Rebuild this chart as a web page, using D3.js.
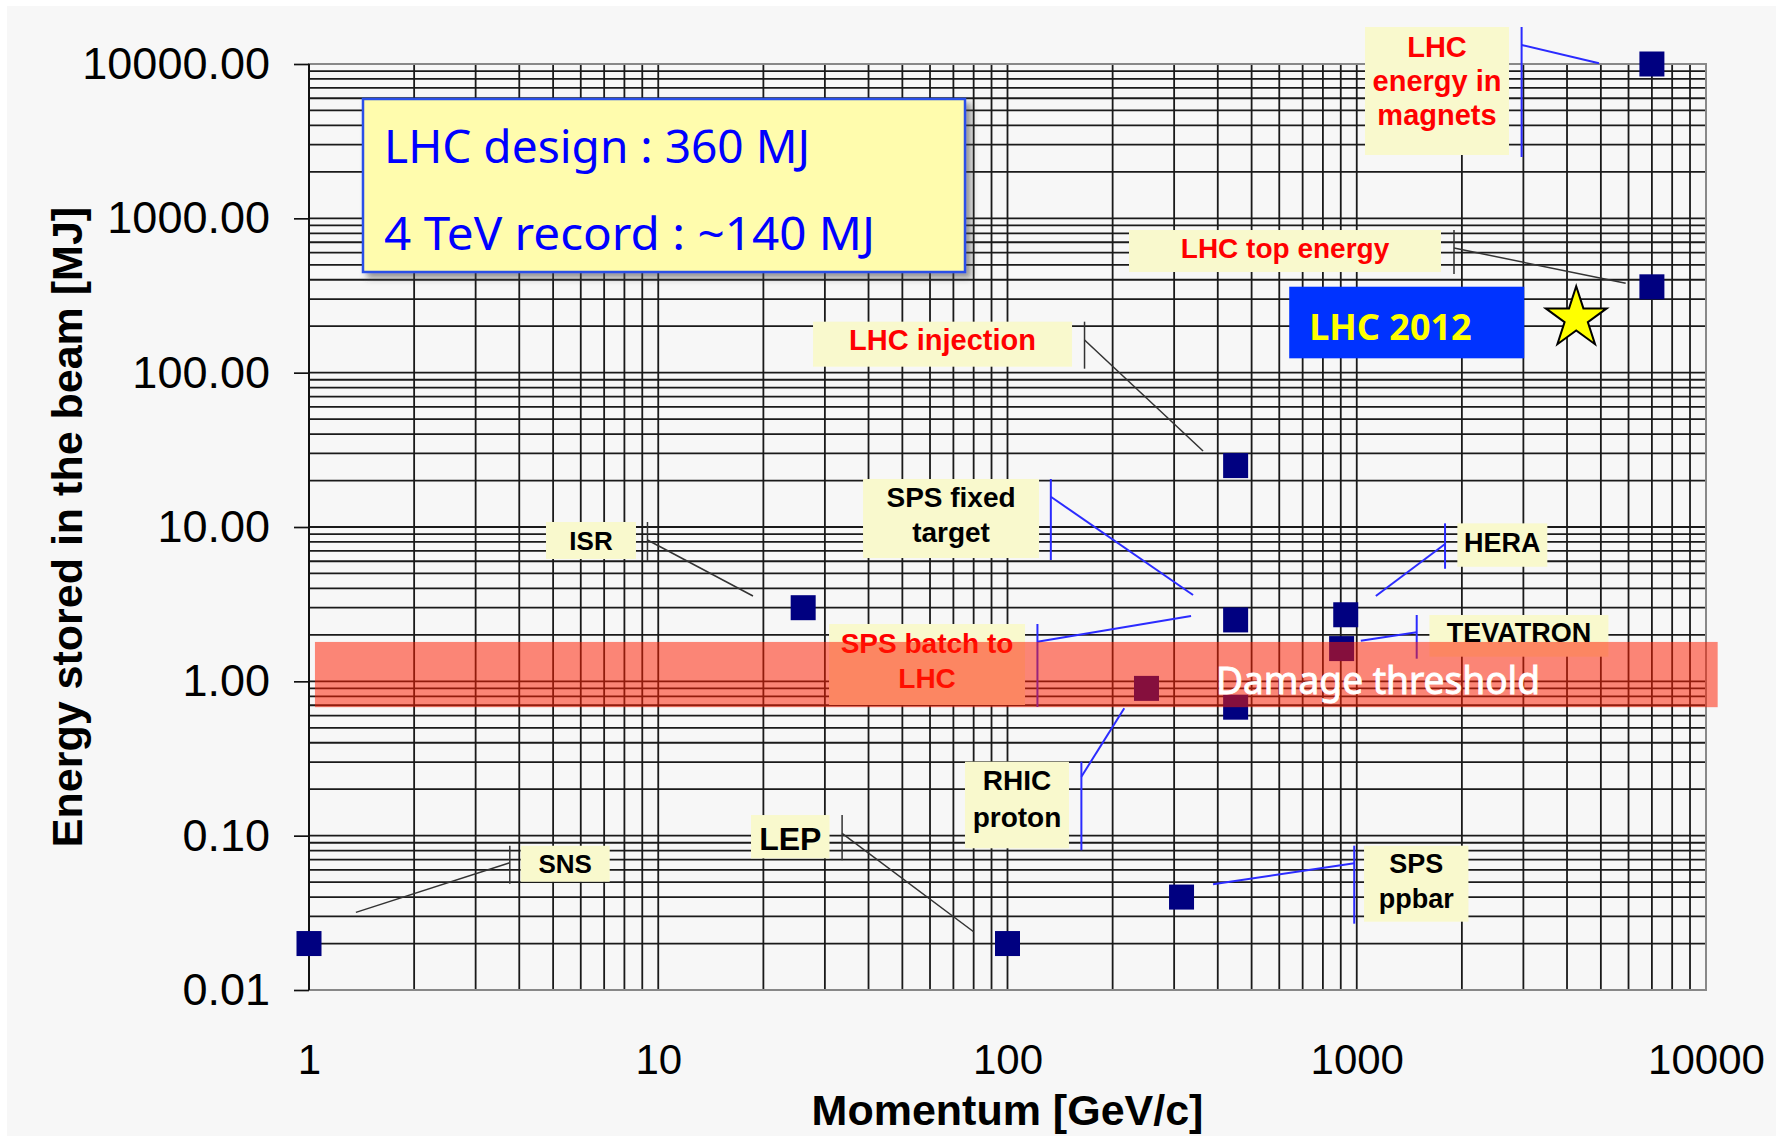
<!DOCTYPE html>
<html>
<head>
<meta charset="utf-8">
<script src="https://cdn.jsdelivr.net/npm/d3@7"></script>
<style>
  body { margin: 0; background: #fff; }
  svg { display: block; }
</style>
</head>
<body>
<script>
// stored beam energy of accelerators vs beam momentum
const machines = ["SNS", "ISR", "LEP", "SPS ppbar", "LHC injection", "SPS fixed target",
  "SPS batch to LHC", "RHIC proton", "HERA", "TEVATRON", "LHC top energy", "LHC energy in magnets"];
const momentum = [1, 26, 100, 315, 450, 450, 450, 250, 930, 905, 7000, 7000];   // GeV/c
const energy = [0.02, 3, 0.02, 0.04, 25, 2.5, 0.68, 0.9, 2.7, 1.63, 360, 10000]; // MJ
const labelLines = [["SNS"], ["ISR"], ["LEP"], ["SPS", "ppbar"], ["LHC injection"], ["SPS fixed", "target"],
  ["SPS batch to", "LHC"], ["RHIC", "proton"], ["HERA"], ["TEVATRON"], ["LHC top energy"], ["LHC", "energy in", "magnets"]];

// LHC 2012 run (star)
const run2012Momentum = [4250];
const run2012Energy = [225];

// damage threshold band
const damageEnergy = [0.68, 1.8];
const damageMomentum = [1.04, 10800];

const xTicks = [1, 10, 100, 1000, 10000];
const yTicks = [0.01, 0.1, 1, 10, 100, 1000, 10000];

const W = 1776, H = 1136;
const plot = {left: 309, right: 1706, top: 64, bottom: 990};

// callout layout, offsets from the point: box [dx, dy, w, h], first baseline, line step, font size,
// bracket dx, leader from / to, red text, blue leader
const callouts = [
  {box: [211.7, -97.8, 89, 36], base: 27.6, step: 0, size: 26, tick: 200.8, from: [200.8, -80.8], to: [46.9, -31.2], red: false, blue: false},
  {box: [-257.2, -85.7, 90, 37], base: 28, step: 0, size: 26, tick: -155.7, from: [-155.7, -67.7], to: [-50.2, -11.7], red: false, blue: false},
  {box: [-256.5, -128.5, 78.5, 43.3], base: 35, step: 0, size: 32, tick: -165.4, from: [-165.4, -110.2], to: [-33.9, -11.8], red: false, blue: false},
  {box: [182.5, -51.4, 104.4, 76], base: 27.6, step: 35, size: 27, tick: 172.7, from: [172.7, -33.8], to: [31.5, -12.8], red: false, blue: true},
  {box: [-422.6, -143.9, 259, 45], base: 28.3, step: 0, size: 29, tick: -151.1, from: [-151.1, -125.6], to: [-32.6, -14.6], red: true, blue: false},
  {box: [-372.6, -140.9, 176, 79], base: 28, step: 35, size: 28, tick: -184.8, from: [-184.8, -123.2], to: [-42.6, -24.9], red: false, blue: true},
  {box: [-406.6, -83.2, 196, 81], base: 29.3, step: 35, size: 28, tick: -198.2, from: [-198.2, -65.5], to: [-44.6, -91.2], red: true, blue: true},
  {box: [-181.5, 73.3, 104, 86.6], base: 28.3, step: 36.7, size: 28, tick: -65.1, from: [-65.1, 88.3], to: [-22.2, 19.9], red: false, blue: true},
  {box: [111.6, -91.4, 90, 43.4], base: 28.4, step: 0, size: 27, tick: 99.3, from: [99.3, -70.7], to: [30.1, -18.7], red: false, blue: true},
  {box: [87.8, -33.6, 179, 41.7], base: 27.3, step: 0, size: 27, tick: 75.1, from: [75.1, -16.3], to: [19.2, -7.9], red: false, blue: true},
  {box: [-522.9, -56.8, 312, 42], base: 28, step: 0, size: 28, tick: -197.9, from: [-197.9, -38.8], to: [-26.2, -3.5], red: true, blue: false},
  {box: [-286.9, -37, 144, 128], base: 29.7, step: 34, size: 29, tick: -130.3, from: [-130.3, -19], to: [-52.9, -0.7], red: true, blue: true}
];

const x = d3.scaleLog().domain([1, 10000]).range([plot.left, plot.right]);
const y = d3.scaleLog().domain([0.01, 10000]).range([plot.bottom, plot.top]);

const svg = d3.select("body").append("svg")
  .attr("width", W)
  .attr("height", H);

const defs = svg.append("defs");
const shadow = defs.append("filter").attr("id", "shadow")
  .attr("x", "-5%").attr("y", "-5%").attr("width", "115%").attr("height", "120%");
shadow.append("feDropShadow")
  .attr("dx", 5).attr("dy", 5).attr("stdDeviation", 3)
  .attr("flood-color", "#444").attr("flood-opacity", 0.55);

svg.append("rect")
  .attr("x", 7).attr("y", 6)
  .attr("width", W - 7).attr("height", H - 6)
  .attr("fill", "#f7f7f7");

// log grid
const xGrid = d3.range(0, 4).flatMap(k => d3.range(1, 10).map(m => m * Math.pow(10, k))).concat([10000]);
const yGrid = d3.range(-2, 4).flatMap(k => d3.range(1, 10).map(m => m * Math.pow(10, k))).concat([10000]);

const grid = svg.append("g").attr("stroke", "#1a1a1a").attr("stroke-width", 1.8);
grid.selectAll("line.v")
  .data(xGrid.slice(1, -1))
  .join("line")
  .attr("class", "v")
  .attr("x1", d => x(d)).attr("x2", d => x(d))
  .attr("y1", plot.top).attr("y2", plot.bottom);
grid.selectAll("line.h")
  .data(yGrid.slice(1, -1))
  .join("line")
  .attr("class", "h")
  .attr("x1", plot.left).attr("x2", plot.right)
  .attr("y1", d => y(d)).attr("y2", d => y(d));

// frame
svg.append("rect")
  .attr("x", plot.left).attr("y", plot.top)
  .attr("width", plot.right - plot.left).attr("height", plot.bottom - plot.top)
  .attr("fill", "none").attr("stroke", "#888").attr("stroke-width", 2);
svg.append("line")
  .attr("x1", plot.left).attr("x2", plot.left)
  .attr("y1", plot.top).attr("y2", plot.bottom)
  .attr("stroke", "#111").attr("stroke-width", 2);

// y axis
const yAxis = svg.append("g")
  .attr("transform", `translate(${plot.left},0)`)
  .call(d3.axisLeft(y).tickValues(yTicks).tickFormat(d3.format(".2f")).tickSize(15).tickPadding(24));
yAxis.select(".domain").remove();
yAxis.selectAll(".tick line").attr("stroke", "#111").attr("stroke-width", 1.7);
yAxis.selectAll(".tick text")
  .attr("fill", "#000")
  .style("font-family", "'Liberation Sans', Arial, sans-serif")
  .style("font-size", "45px");

// x axis (labels only)
const xAxis = svg.append("g")
  .attr("transform", `translate(0,${plot.bottom})`)
  .call(d3.axisBottom(x).tickValues(xTicks).tickFormat(d3.format("d")).tickSize(0).tickPadding(54));
xAxis.select(".domain").remove();
xAxis.selectAll(".tick text")
  .attr("fill", "#000")
  .style("font-family", "'Liberation Sans', Arial, sans-serif")
  .style("font-size", "42px");

svg.append("text")
  .attr("x", (plot.left + plot.right) / 2)
  .attr("y", 1125)
  .attr("text-anchor", "middle")
  .style("font-family", "'Liberation Sans', Arial, sans-serif")
  .style("font-weight", "bold")
  .style("font-size", "43px")
  .text("Momentum [GeV/c]");

svg.append("text")
  .attr("transform", `translate(82,${(plot.top + plot.bottom) / 2}) rotate(-90)`)
  .attr("text-anchor", "middle")
  .style("font-family", "'Liberation Sans', Arial, sans-serif")
  .style("font-weight", "bold")
  .style("font-size", "43px")
  .text("Energy stored in the beam [MJ]");

// LHC design text box
const design = svg.append("g");
design.append("rect")
  .attr("x", 363).attr("y", 99)
  .attr("width", 602).attr("height", 173)
  .attr("fill", "#fffcad")
  .attr("stroke", "#2a4fe8").attr("stroke-width", 2.5)
  .attr("filter", "url(#shadow)");
design.selectAll("text")
  .data([["LHC design : 360 MJ", 426], ["4 TeV record : ~140 MJ", 491]])
  .join("text")
  .attr("x", 384)
  .attr("y", (d, i) => 163 + i * 87)
  .attr("textLength", d => d[1])
  .attr("lengthAdjust", "spacingAndGlyphs")
  .attr("fill", "#0000ff")
  .style("font-family", "'Noto Sans', 'Open Sans', sans-serif")
  .style("font-size", "46px")
  .text(d => d[0]);

// callouts
const pts = machines.map((m, i) => ({name: m, px: x(momentum[i]), py: y(energy[i]), lines: labelLines[i], c: callouts[i]}));

const cg = svg.append("g").selectAll("g")
  .data(pts)
  .join("g")
  .attr("transform", d => `translate(${d.px},${d.py})`);

cg.append("line")
  .attr("x1", d => d.c.tick).attr("x2", d => d.c.tick)
  .attr("y1", d => d.c.box[1]).attr("y2", d => d.c.box[1] + d.c.box[3] + 2)
  .attr("stroke", d => d.c.blue ? "#2b2bff" : "#333")
  .attr("stroke-width", d => d.c.blue ? 2 : 1.5);
cg.append("line")
  .attr("x1", d => d.c.from[0]).attr("y1", d => d.c.from[1])
  .attr("x2", d => d.c.to[0]).attr("y2", d => d.c.to[1])
  .attr("stroke", d => d.c.blue ? "#2b2bff" : "#333")
  .attr("stroke-width", d => d.c.blue ? 2 : 1.5);
cg.append("rect")
  .attr("x", d => d.c.box[0]).attr("y", d => d.c.box[1])
  .attr("width", d => d.c.box[2]).attr("height", d => d.c.box[3])
  .attr("fill", "#f9f9cd");
cg.each(function(d) {
  d3.select(this).selectAll("text.lbl")
    .data(d.lines)
    .join("text")
    .attr("class", "lbl")
    .attr("x", d.c.box[0] + d.c.box[2] / 2)
    .attr("y", (t, i) => d.c.box[1] + d.c.base + i * d.c.step)
    .attr("text-anchor", "middle")
    .attr("fill", d.c.red ? "#ff0000" : "#000")
    .style("font-family", "'Liberation Sans', Arial, sans-serif")
    .style("font-weight", "bold")
    .style("font-size", d.c.size + "px")
    .text(t => t);
});

// data squares
const sq = 25;
svg.append("g").selectAll("rect")
  .data(pts)
  .join("rect")
  .attr("x", d => d.px - sq / 2).attr("y", d => d.py - sq / 2)
  .attr("width", sq).attr("height", sq)
  .attr("fill", "#000080");

// LHC 2012 label and star
const sx = x(run2012Momentum[0]), sy = y(run2012Energy[0]);
svg.append("rect")
  .attr("x", sx - 287).attr("y", sy - 31.6)
  .attr("width", 235).attr("height", 71.6)
  .attr("fill", "#0033ff");
svg.append("text")
  .attr("x", sx - 267).attr("y", sy + 22)
  .attr("fill", "#ffff00")
  .style("font-family", "'Noto Sans', 'Open Sans', sans-serif")
  .style("font-weight", "bold")
  .style("font-size", "36px")
  .text("LHC 2012");
svg.append("g").selectAll("path")
  .data(run2012Momentum.map((m, i) => [m, run2012Energy[i]]))
  .join("path")
  .attr("transform", d => `translate(${x(d[0])},${y(d[1])})`)
  .attr("d", d3.symbol(d3.symbolStar, 1150))
  .attr("fill", "#ffff00")
  .attr("stroke", "#000")
  .attr("stroke-width", 2);

// damage threshold band on top
const bandTop = y(damageEnergy[1]), bandBot = y(damageEnergy[0]);
svg.append("rect")
  .attr("x", x(damageMomentum[0])).attr("y", bandTop)
  .attr("width", x(damageMomentum[1]) - x(damageMomentum[0]))
  .attr("height", bandBot - bandTop)
  .attr("fill", "rgb(255,28,0)")
  .attr("fill-opacity", 0.52);
svg.append("text")
  .attr("x", 1216)
  .attr("y", (bandTop + bandBot) / 2 + 19)
  .attr("fill", "#fff")
  .attr("stroke", "#fff")
  .attr("stroke-width", 0.9)
  .attr("textLength", 324)
  .attr("lengthAdjust", "spacingAndGlyphs")
  .style("font-family", "'Noto Sans', 'Open Sans', sans-serif")
  .style("font-size", "38px")
  .text("Damage threshold");
</script>
</body>
</html>
